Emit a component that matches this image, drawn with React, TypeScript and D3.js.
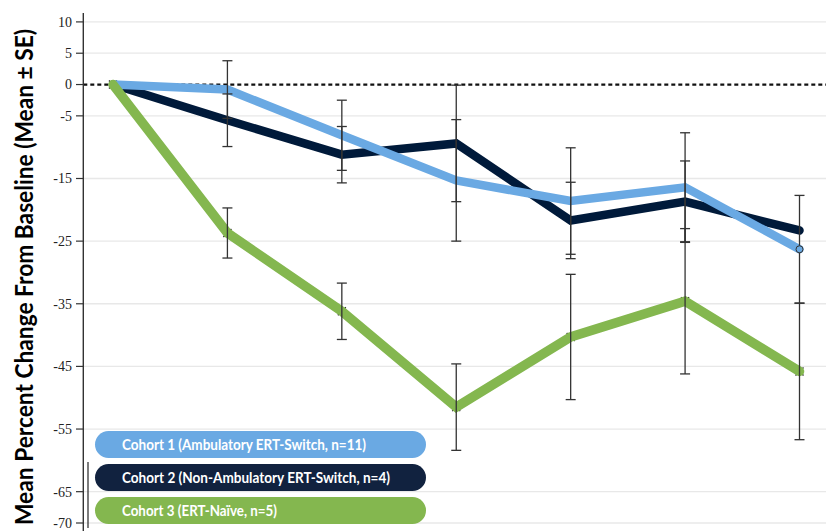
import React from "react";
import * as d3 from "d3";

// Visit index (baseline = 0)
const visits = [0, 1, 2, 3, 4, 5, 6];

// Mean percent change from baseline per cohort
const cohort1Mean = [0, -0.8, -8.1, -15.3, -18.6, -16.4, -26.3];
const cohort2Mean = [0, -5.7, -11.2, -9.4, -21.7, -18.7, -23.3];
const cohort3Mean = [0, -23.7, -36.2, -51.5, -40.3, -34.6, -45.8];

// Standard errors (null = no bar drawn)
const cohort1SE = [null, 4.6, 5.6, 9.7, 8.5, 8.7, 8.6];
const cohort2SE = [null, 4.2, 4.5, 9.3, 6.1, 6.5, null];
const cohort3SE = [null, 4.0, 4.5, 6.9, 10.0, 11.6, 10.9];

const cohortNames = [
  "Cohort 1 (Ambulatory ERT-Switch, n=11)",
  "Cohort 2 (Non-Ambulatory ERT-Switch, n=4)",
  "Cohort 3 (ERT-Naïve, n=5)",
];

const yTicks = [10, 5, 0, -5, -15, -25, -35, -45, -55, -65, -70];

const W = 826;
const H = 531;

type Series = {
  name: string;
  mean: number[];
  se: (number | null)[];
  color: string;
  pill: string;
  width: number;
  textLen: number;
};

const series: Series[] = [
  { name: cohortNames[0], mean: cohort1Mean, se: cohort1SE, color: "#6aa9e3", pill: "#6aa9e3", width: 8.5, textLen: 244 },
  { name: cohortNames[1], mean: cohort2Mean, se: cohort2SE, color: "#001a3a", pill: "#11223f", width: 8.5, textLen: 268 },
  { name: cohortNames[2], mean: cohort3Mean, se: cohort3SE, color: "#84b74f", pill: "#84b74f", width: 9.5, textLen: 155 },
];

export default function App() {
  const x = d3.scaleLinear().domain([0, 6]).range([113, 799.5]);
  const y = d3.scaleLinear().domain([10, -70]).range([21.9, 523]);
  const axisX = 83.3;

  const line = d3
    .line<number>()
    .x((_, i) => x(visits[i]))
    .y((d) => y(d));

  // draw order: navy, light blue, green
  const drawOrder = [series[1], series[0], series[2]];

  return (
    <div style={{ position: "absolute", left: 0, top: 0 }}>
      <svg width={W} height={H} style={{ display: "block", background: "#fff" }}>
        {/* grid */}
        {yTicks.map((t) =>
          t === 0 ? null : (
            <line key={"g" + t} x1={axisX} x2={W} y1={y(t)} y2={y(t)} stroke="#e8e8e8" strokeWidth={1.3} />
          )
        )}
        {/* zero reference */}
        <line x1={axisX} x2={W} y1={y(0)} y2={y(0)} stroke="#111" strokeWidth={2.2} strokeDasharray="4 3" />

        {/* axis */}
        <line x1={axisX} x2={axisX} y1={13} y2={H} stroke="#333" strokeWidth={1.4} />
        {yTicks.map((t) => (
          <g key={"t" + t}>
            <line x1={76} x2={axisX} y1={y(t)} y2={y(t)} stroke="#333" strokeWidth={1.2} />
            <text
              x={72}
              y={y(t)}
              dy="0.35em"
              textAnchor="end"
              fontFamily="'Liberation Serif', 'DejaVu Serif', serif"
              fontSize={14}
              fill="#222"
            >
              {t}
            </text>
          </g>
        ))}
        <line x1={88} x2={88} y1={462} y2={528} stroke="#444" strokeWidth={1.4} />

        {/* axis title */}
        <text
          transform={`translate(33, ${277}) rotate(-90)`}
          textAnchor="middle"
          fontFamily="Lato, 'Open Sans', sans-serif"
          fontWeight="bold"
          fontSize={24}
          fill="#000"
          textLength={496}
          lengthAdjust="spacingAndGlyphs"
        >
          Mean Percent Change From Baseline (Mean ± SE)
        </text>

        {/* point markers (mostly covered by the lines) */}
        {cohort3Mean.map((m, i) =>
          i === 0 ? null : (
            <path
              key={"x" + i}
              d="M-4,-4L4,4M-4,4L4,-4"
              transform={`translate(${x(visits[i])},${y(m)})`}
              stroke="#222"
              strokeWidth={1.3}
            />
          )
        )}
        <path
          d="M-4,-4L4,4M-4,4L4,-4"
          transform={`translate(${x(visits[0])},${y(0)})`}
          stroke="#333"
          strokeWidth={1.5}
        />

        {/* lines */}
        {drawOrder.map((s) => (
          <path
            key={s.name}
            d={line(s.mean) ?? ""}
            fill="none"
            stroke={s.color}
            strokeWidth={s.width}
            strokeLinejoin="miter"
            strokeLinecap="round"
          />
        ))}

        {/* error bars */}
        {series.map((s) =>
          s.mean.map((m, i) => {
            const e = s.se[i];
            if (e == null) return null;
            const cx = x(visits[i]);
            const y1 = y(m + e);
            const y2 = y(m - e);
            return (
              <g key={s.name + i} stroke="#333" strokeWidth={1.3}>
                <line x1={cx} x2={cx} y1={y1} y2={y2} />
                <line x1={cx - 5} x2={cx + 5} y1={y1} y2={y1} />
                <line x1={cx - 5} x2={cx + 5} y1={y2} y2={y2} />
              </g>
            );
          })
        )}

        <circle
          cx={x(visits[6])}
          cy={y(cohort1Mean[6])}
          r={3.5}
          fill={series[0].color}
          stroke="#333"
          strokeWidth={1}
        />

        {/* legend */}
        {series.map((s, i) => {
          const top = 431 + i * 33;
          return (
            <g key={"l" + i}>
              <rect x={95} y={top} width={331} height={27} rx={13.5} ry={13.5} fill={s.pill} />
              <text
                x={122}
                y={top + 18.5}
                fontFamily="Lato, 'Open Sans', sans-serif"
                fontWeight="bold"
                fontSize={15}
                fill="#fff"
                textLength={s.textLen}
                lengthAdjust="spacingAndGlyphs"
              >
                {s.name}
              </text>
            </g>
          );
        })}
      </svg>
    </div>
  );
}
